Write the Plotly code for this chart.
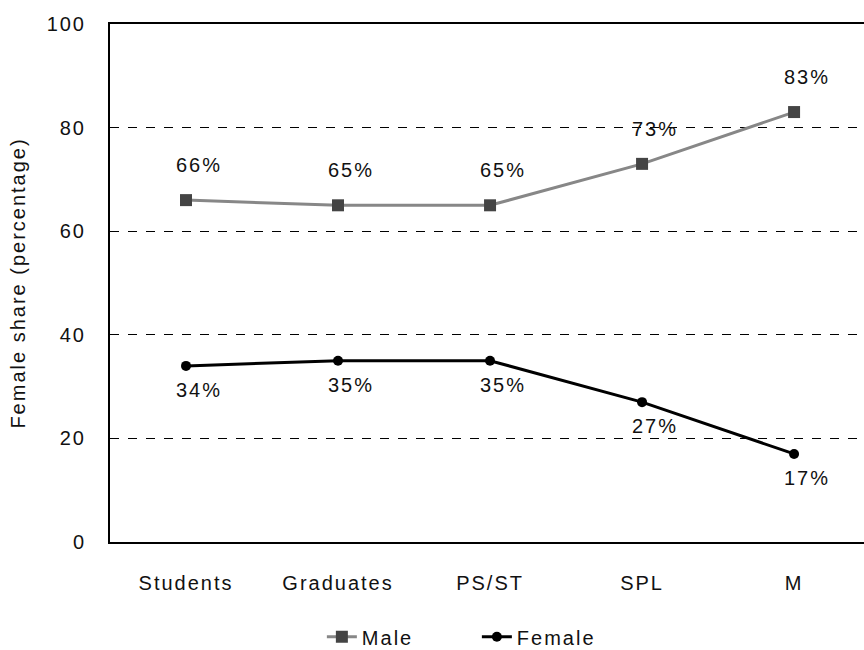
import plotly.graph_objects as go

categories = ["Students", "Graduates", "PS/ST", "SPL", "M"]
male_share = [66, 65, 65, 73, 83]
female_share = [34, 35, 35, 27, 17]
y_ticks = [0, 20, 40, 60, 80, 100]

FONT = "Liberation Sans, Arial, sans-serif"
FS = 20

fig = go.Figure()
fig.add_trace(go.Scatter(
    x=categories, y=male_share, name="Male", mode="lines+markers",
    line=dict(color="#878787", width=3),
    marker=dict(symbol="square", size=12, color="#444444"),
))
fig.add_trace(go.Scatter(
    x=categories, y=female_share, name="Female", mode="lines+markers",
    line=dict(color="#000000", width=3),
    marker=dict(symbol="circle", size=10, color="#000000"),
))

annotations = []
for c, v in zip(categories, male_share):
    annotations.append(dict(x=c, y=v, text=f"{v}%", showarrow=False,
                            xshift=13, yshift=35,
                            font=dict(family=FONT, size=FS, color="#111")))
for c, v in zip(categories, female_share):
    annotations.append(dict(x=c, y=v, text=f"{v}%", showarrow=False,
                            xshift=13, yshift=-24,
                            font=dict(family=FONT, size=FS, color="#111")))

fig.update_layout(
    width=864, height=650,
    margin=dict(l=110, r=0, t=24, b=108, autoexpand=False),
    plot_bgcolor="white", paper_bgcolor="white",
    font=dict(family=FONT, size=FS, color="#111"),
    annotations=annotations,
    showlegend=True,
    legend=dict(orientation="h", x=0.281, xanchor="left", y=-0.183, yanchor="middle",
                font=dict(family=FONT, size=FS), tracegroupgap=0,
                entrywidth=110, entrywidthmode="pixels", bgcolor="rgba(0,0,0,0)"),
    xaxis=dict(
        type="category", range=[-0.5, 4.46],
        showline=True, linecolor="black", linewidth=2, mirror=True,
        showgrid=False, ticks="", ticklabelstandoff=22,
        tickfont=dict(family=FONT, size=FS),
    ),
    yaxis=dict(
        range=[0, 100], tickvals=y_ticks,
        showline=True, linecolor="black", linewidth=2,
        showgrid=True, gridcolor="black", gridwidth=1, griddash="dash",
        zeroline=False, ticks="", ticklabelstandoff=18,
        tickfont=dict(family=FONT, size=FS),
        title=dict(text="Female share (percentage)", standoff=22,
                   font=dict(family=FONT, size=FS)),
    ),
)

# widen the character spacing of every SVG text element
spacing_js = """
document.querySelectorAll('.js-plotly-plot svg text').forEach(function (t) {
    t.style.letterSpacing = '2px';
});
"""

fig.write_html("out.html", post_script=spacing_js)
